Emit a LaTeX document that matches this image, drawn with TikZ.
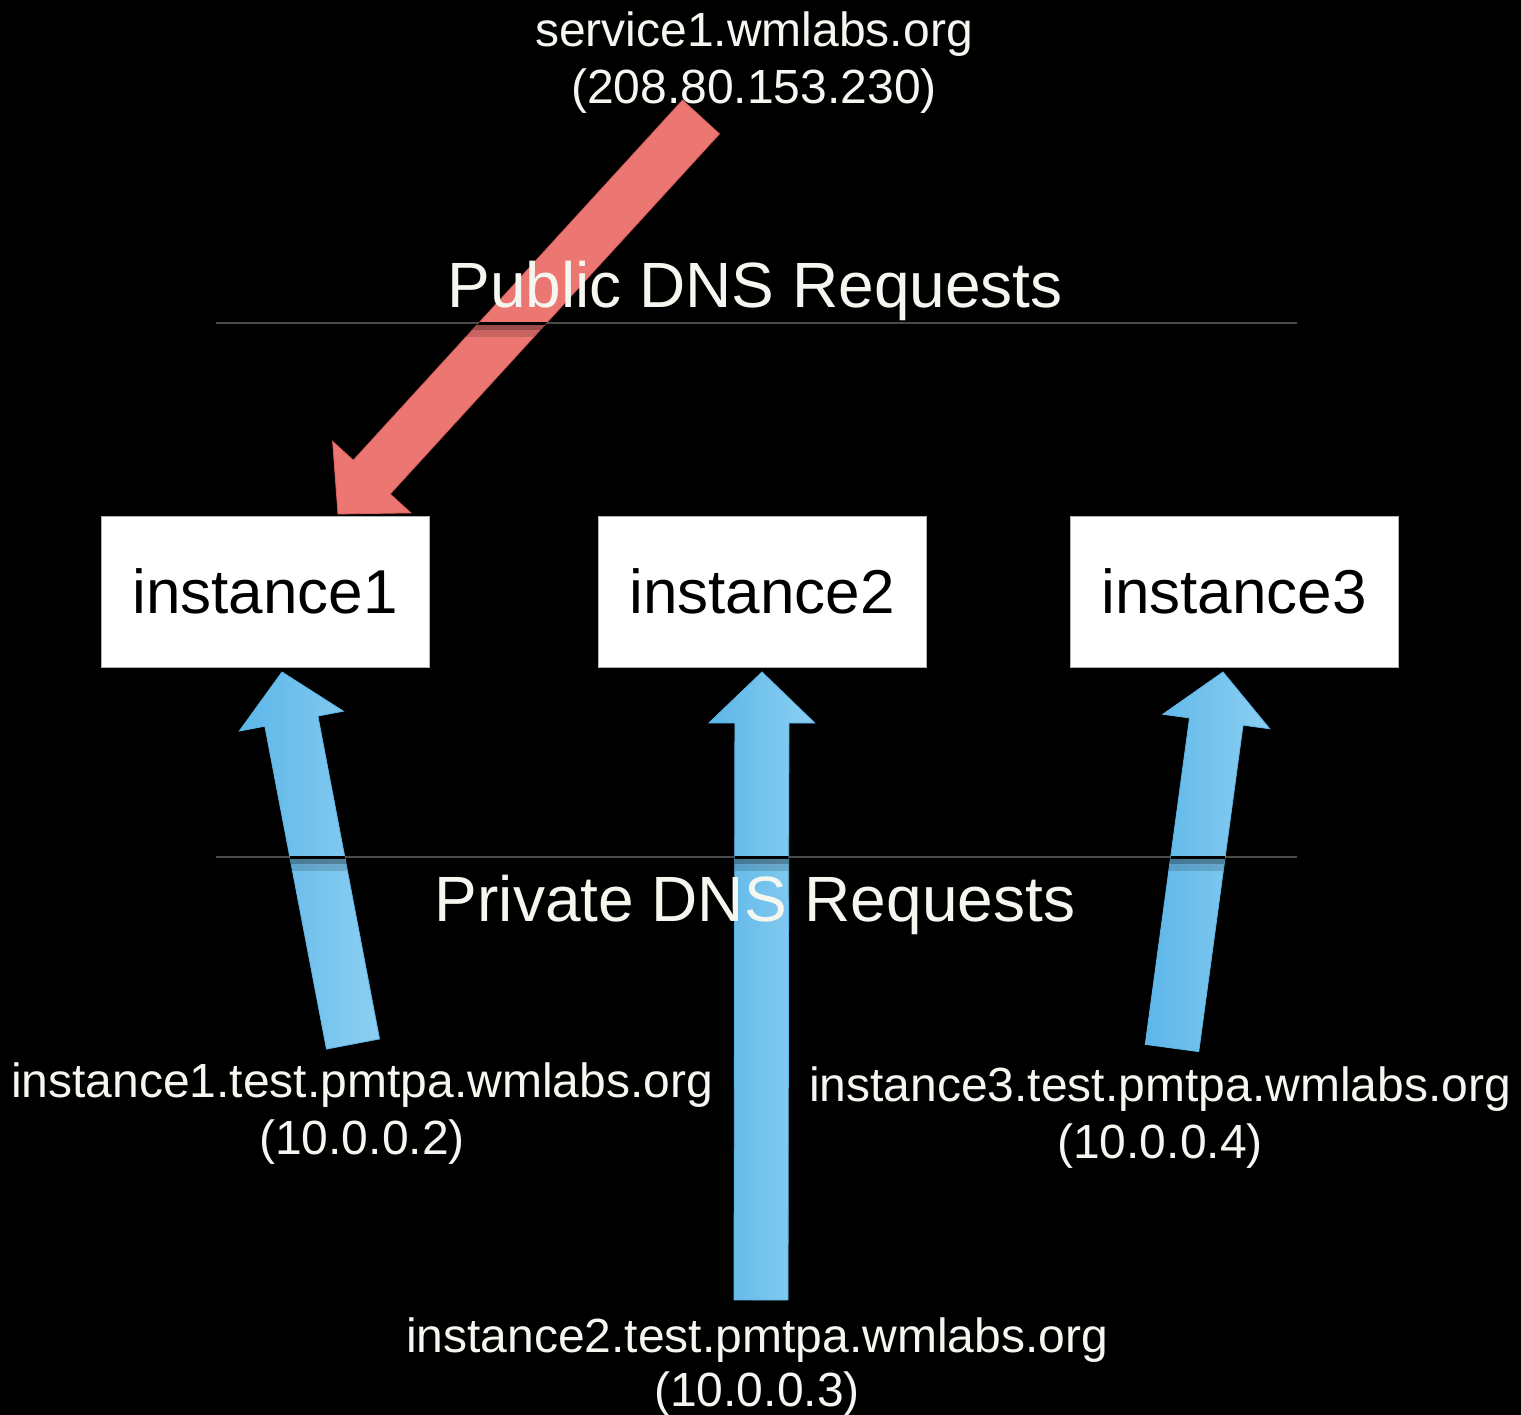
\documentclass[tikz,border=0pt]{standalone}
\usepackage{fontspec}
\setmainfont{Liberation Sans}
\usetikzlibrary{calc}
\definecolor{redarrow}{HTML}{EC7672}
\definecolor{reddark}{HTML}{D9605E}
\definecolor{bluedark}{HTML}{5CB6E8}
\definecolor{bluelight}{HTML}{8CCFF2}
\definecolor{sepline}{HTML}{4A4A4A}
\definecolor{txt}{HTML}{F6F6F0}
% name, tail, tip, shaft half width, head half width, head length
\newcommand\defarrow[6]{%
  \coordinate (#1H) at ($(#3)!#6!(#2)$);
  \coordinate (#1a) at ($(#2)!#4!90:(#3)$);
  \coordinate (#1b) at ($(#1H)!#4!90:(#3)$);
  \coordinate (#1c) at ($(#1H)!#5!90:(#3)$);
  \coordinate (#1d) at (#3);
  \coordinate (#1e) at ($(#1H)!#5!-90:(#3)$);
  \coordinate (#1f) at ($(#1H)!#4!-90:(#3)$);
  \coordinate (#1g) at ($(#2)!#4!-90:(#3)$);
}
\newcommand\arrowshape[1]{(#1a) -- (#1b) -- (#1c) -- (#1d) -- (#1e) -- (#1f) -- (#1g) -- cycle}
\begin{document}
\begin{tikzpicture}[x=1bp,y=-1bp,
  lbl/.style={text=txt, font=\fontsize{48bp}{57bp}\selectfont, inner sep=0, anchor=base},
  heading/.style={text=txt, font=\fontsize{64bp}{76bp}\selectfont, inner sep=0, anchor=base},
  ibox/.style={fill=white, draw=gray!60, line width=0.8bp, minimum width=328bp,
    minimum height=151bp, inner sep=0, font=\fontsize{62bp}{74bp}\selectfont, text=black},
  sep/.style={draw=sepline, line width=1.5bp},
  redfat/.style={fill=redarrow, draw=reddark, line width=0.8bp},
  bluefat/.style={left color=bluedark, right color=bluelight, draw=bluedark, line width=0.8bp}]
\fill[black] (0,0) rectangle (1521,1415);
\useasboundingbox (0,0) rectangle (1521,1415);
% separator lines
\coordinate (L1a) at (216,323); \coordinate (L1b) at (1297,323);
\coordinate (L2a) at (216,857); \coordinate (L2b) at (1297,857);
\draw[sep] (L1a) -- (L1b);
\draw[sep] (L2a) -- (L2b);
% arrow end points
\coordinate (rt) at (701,117);  \coordinate (rp) at (338,514);
\coordinate (b1t) at (353,1044); \coordinate (b1p) at (282,672);
\coordinate (b2t) at (761,1300); \coordinate (b2p) at (762,672);
\coordinate (b3t) at (1172,1048); \coordinate (b3p) at (1223,672);
\defarrow{r}{rt}{rp}{25bp}{53bp}{50bp}
\defarrow{ba}{b1t}{b1p}{27bp}{53bp}{50bp}
\defarrow{bb}{b2t}{b2p}{27bp}{53bp}{51bp}
\defarrow{bc}{b3t}{b3p}{27bp}{54bp}{50bp}
\path[redfat] \arrowshape{r};
\path[bluefat] \arrowshape{ba};
\path[bluefat] \arrowshape{bb};
\path[bluefat] \arrowshape{bc};
% line reflections across the arrows
\begin{scope}
  \clip \arrowshape{r};
  \fill[black] (0,322) rectangle (1521,324.5);
  \fill[black,opacity=.35] (0,324.5) rectangle (1521,330);
  \fill[black,opacity=.15] (0,330) rectangle (1521,337);
\end{scope}
\foreach \a in {ba,bb,bc}{
\begin{scope}
  \clip \arrowshape{\a};
  \fill[black] (0,856) rectangle (1521,858.5);
  \fill[black,opacity=.35] (0,858.5) rectangle (1521,864);
  \fill[black,opacity=.15] (0,864) rectangle (1521,871);
\end{scope}}
% instance boxes
\node[ibox] (i1) at (265,591.5) {instance1};
\node[ibox] (i2) at (762,591.5) {instance2};
\node[ibox] (i3) at (1234,591.5) {instance3};
% texts
\node[lbl] (svc) at (754,47) {service1.wmlabs.org};
\node[lbl] (svcip) at (754,104) {(208.80.153.230)};
\node[heading] (pub) at (755,307) {Public DNS Requests};
\node[heading] (priv) at (755,921) {Private DNS Requests};
\node[lbl] (n1) at (362,1097) {instance1.test.pmtpa.wmlabs.org};
\node[lbl] (n1ip) at (362,1154) {(10.0.0.2)};
\node[lbl] (n3) at (1160,1101) {instance3.test.pmtpa.wmlabs.org};
\node[lbl] (n3ip) at (1160,1158) {(10.0.0.4)};
\node[lbl] (n2) at (757,1352) {instance2.test.pmtpa.wmlabs.org};
\node[lbl] (n2ip) at (757,1406) {(10.0.0.3)};
\end{tikzpicture}
\end{document}
